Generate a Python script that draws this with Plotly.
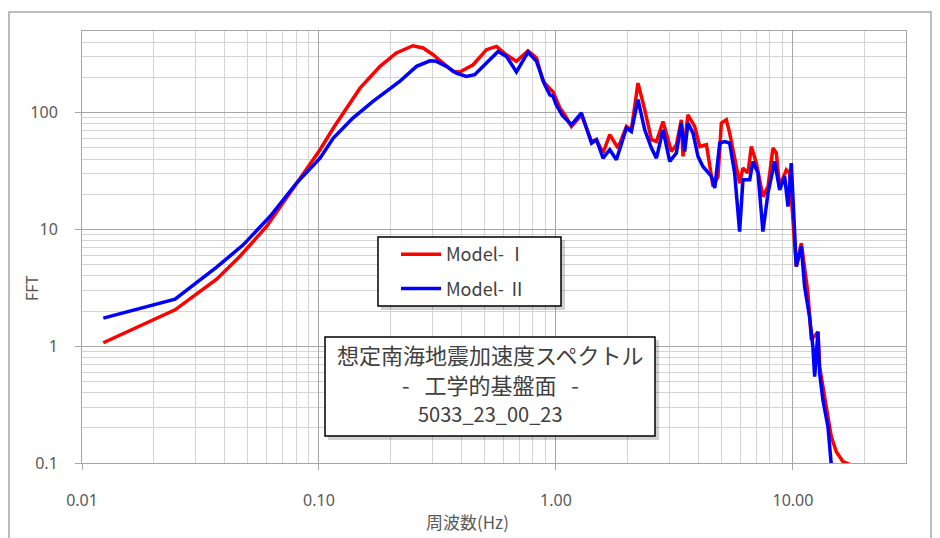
import plotly.graph_objects as go

# Model-I (red)
freq_1 = [0.0123, 0.0247, 0.0370, 0.0463, 0.0601, 0.0753, 0.101, 0.115, 0.149, 0.181,
          0.212, 0.249, 0.275, 0.303, 0.334, 0.368, 0.393, 0.447, 0.509, 0.561,
          0.618, 0.681, 0.762, 0.828, 0.882, 0.942, 0.973, 1.038, 1.089, 1.162,
          1.281, 1.413, 1.482, 1.580, 1.687, 1.828, 1.983, 2.081, 2.219, 2.369,
          2.529, 2.655, 2.830, 3.069, 3.222, 3.382, 3.436, 3.606, 3.849, 4.042,
          4.315, 4.600, 4.829, 4.989, 5.236, 5.408, 5.675, 5.957, 6.152, 6.457,
          6.675, 7.01, 7.47, 7.85, 8.24, 8.51, 8.79, 9.38, 9.68, 10.0,
          10.33, 10.85, 11.39, 11.57, 11.96, 12.75, 12.96, 13.61, 14.05, 14.52,
          15.24, 16.25, 17.63]
fft_1 = [1.07, 2.05, 3.75, 5.86, 10.6, 20.5, 48.1, 73.8, 162, 249,
         324, 374, 358, 313, 266, 225, 223, 257, 346, 369,
         313, 275, 339, 294, 185, 160, 150, 110, 95.9, 76.2,
         95.9, 56.6, 58.6, 45.1, 64.7, 49.7, 76.2, 71.3, 179, 106,
         58.6, 56.6, 84.1, 46.5, 53.1, 86.9, 42.2, 95.9, 76.2, 51.3,
         53.1, 23.3, 28.4, 81.5, 86.9, 66.8, 42.2, 24.9, 33.5, 30.4,
         51.3, 37.0, 19.1, 23.3, 49.7, 45.1, 23.3, 32.4, 30.4, 10.6,
         4.81, 7.63, 3.70, 2.85, 1.13, 1.33, 0.668, 0.347, 0.249, 0.168,
         0.125, 0.103, 0.096]

# Model-II (blue)
freq_2 = [0.0123, 0.0247, 0.0370, 0.0479, 0.0621, 0.0804, 0.101, 0.115, 0.139, 0.169,
          0.219, 0.258, 0.294, 0.313, 0.345, 0.380, 0.419, 0.454, 0.509, 0.570,
          0.618, 0.681, 0.762, 0.828, 0.897, 0.942, 0.973, 1.000, 1.062, 1.162,
          1.281, 1.413, 1.482, 1.580, 1.687, 1.799, 1.983, 2.081, 2.219, 2.369,
          2.529, 2.655, 2.830, 3.020, 3.222, 3.382, 3.493, 3.606, 3.787, 3.975,
          4.17, 4.53, 4.68, 4.91, 5.15, 5.408, 5.675, 5.957, 6.152, 6.57,
          6.78, 7.12, 7.47, 7.85, 8.37, 8.79, 9.23, 9.53, 9.84, 10.17,
          10.33, 10.85, 11.2, 11.75, 12.14, 12.35, 12.75, 12.96, 13.38, 14.05,
          14.52]
fft_2 = [1.74, 2.53, 4.75, 7.38, 12.9, 24.9, 40.8, 60.6, 89.9, 125,
         185, 249, 278, 275, 249, 218, 204, 211, 266, 334,
         303, 223, 330, 275, 173, 142, 138, 118, 95, 78.7,
         99.3, 54.8, 58.6, 40.8, 48.1, 39.5, 73.8, 69.0, 129, 71.3,
         49.7, 40.8, 71.3, 38.2, 45.1, 81.5, 46.5, 81.5, 66.8, 42.2,
         34.6, 28.4, 22.6, 54.8, 56.6, 54.8, 30.4, 9.59, 26.6, 26.6,
         38.2, 30.4, 9.59, 20.5, 38.2, 21.8, 28.4, 15.7, 37.0, 10.6,
         4.81, 7.14, 3.24, 1.79, 0.99, 0.549, 1.33, 0.588, 0.347, 0.205,
         0.096]

x_tickvals = [0.01, 0.1, 1, 10]
x_ticktext = ["0.01", "0.10", "1.00", "10.00"]
y_tickvals = [0.1, 1, 10, 100]
y_ticktext = ["0.1", "1", "10", "100"]

x_minor = [m * d for d in [0.01, 0.1, 1, 10] for m in range(2, 10) if m * d <= 30.0001]
y_minor = [m * d for d in [0.1, 1, 10, 100] for m in range(2, 10) if m * d <= 500.001]

series_names = ["Model- Ⅰ", "Model- Ⅱ"]
title_lines = ["想定南海地震加速度スペクトル",
               "-\u00a0\u00a0\u00a0工学的基盤面\u00a0\u00a0\u00a0-",
               "5033_23_00_23"]

TXT = "#595959"
GRID_MAJOR = "#a6a6a6"
GRID_MINOR = "#d4d4d4"

fig = go.Figure()
fig.add_trace(go.Scatter(x=freq_1, y=fft_1, mode="lines", name=series_names[0],
                         legendgroup="g1",
                         line=dict(color="#ff0000", width=3.5)))
fig.add_trace(go.Scatter(x=freq_2, y=fft_2, mode="lines", name=series_names[1],
                         legendgroup="g2",
                         line=dict(color="#0000ff", width=3.5)))

axis_common = dict(
    showline=True, linecolor=GRID_MAJOR, linewidth=1, mirror=True,
    showgrid=True, gridcolor=GRID_MAJOR, gridwidth=1,
    ticks="outside", ticklen=6, tickcolor=GRID_MAJOR,
    tickfont=dict(family="Noto Sans", size=16, color=TXT),
    zeroline=False,
)

fig.update_layout(
    width=932, height=530,
    margin=dict(l=74, r=34, t=23, b=75),
    paper_bgcolor="white", plot_bgcolor="white",
    xaxis=dict(type="log", range=[-2, 1.4771], tickmode="array",
               tickvals=x_tickvals, ticktext=x_ticktext, ticklabelstandoff=17,
               minor=dict(tickmode="array", tickvals=x_minor, showgrid=True,
                          gridcolor=GRID_MINOR, gridwidth=1, ticks=""),
               **axis_common),
    yaxis=dict(type="log", range=[-1, 2.69897], tickmode="array",
               tickvals=y_tickvals, ticktext=y_ticktext, ticklabelstandoff=14,
               minor=dict(tickmode="array", tickvals=y_minor, showgrid=True,
                          gridcolor=GRID_MINOR, gridwidth=1, ticks=""),
               **axis_common),
    showlegend=True,
    legend=dict(x=(396 - 82) / 824, y=(463 - 236) / 432, xanchor="left", yanchor="top",
                bgcolor="rgba(0,0,0,0)", borderwidth=0,
                font=dict(family="Noto Sans CJK JP", size=18, color="#404040"),
                itemwidth=40, tracegroupgap=8),
)

# outer chart border
fig.add_shape(type="rect", xref="paper", yref="paper",
              x0=-0.0886, x1=1.0303, y0=-0.2, y1=1.044,
              line=dict(color="#a6a6a6", width=1.5), fillcolor="rgba(0,0,0,0)",
              layer="below")

# legend box with shadow
fig.add_shape(type="rect", xref="paper", yref="paper",
              x0=(381 - 82) / 824, x1=(565 - 82) / 824, y0=(463 - 310) / 432, y1=(463 - 240) / 432,
              line=dict(width=0), fillcolor="rgba(0,0,0,0.18)", layer="above")
fig.add_shape(type="rect", xref="paper", yref="paper",
              x0=(378 - 82) / 824, x1=(561 - 82) / 824, y0=(463 - 306) / 432, y1=(463 - 237) / 432,
              line=dict(color="black", width=1.5), fillcolor="white", layer="above")

# text box with shadow
fig.add_shape(type="rect", xref="paper", yref="paper",
              x0=(328 - 82) / 824, x1=(659 - 82) / 824, y0=(463 - 440) / 432, y1=(463 - 340) / 432,
              line=dict(width=0), fillcolor="rgba(0,0,0,0.18)", layer="above")
fig.add_shape(type="rect", xref="paper", yref="paper",
              x0=(325 - 82) / 824, x1=(655 - 82) / 824, y0=(463 - 436) / 432, y1=(463 - 337) / 432,
              line=dict(color="black", width=1.5), fillcolor="white", layer="above")

for i, (line, py) in enumerate(zip(title_lines, [354, 384, 413])):
    fig.add_annotation(text=line, xref="paper", yref="paper",
                       x=(490 - 82) / 824, y=(463 - py) / 432,
                       xanchor="center", yanchor="middle", showarrow=False,
                       font=dict(family="Noto Sans CJK JP", size=22 if i < 2 else 20, color="#404040"))

# axis titles
fig.add_annotation(text="周波数(Hz)", xref="paper", yref="paper",
                   x=(467 - 82) / 824, y=(463 - 521) / 432, xanchor="center", yanchor="middle",
                   showarrow=False, font=dict(family="Noto Sans CJK JP", size=17, color=TXT))
fig.add_annotation(text="FFT", xref="paper", yref="paper",
                   x=(32 - 82) / 824, y=(463 - 288) / 432, xanchor="center", yanchor="middle",
                   textangle=-90, showarrow=False,
                   font=dict(family="Noto Sans", size=16, color=TXT))

fig.write_html("out.html")
